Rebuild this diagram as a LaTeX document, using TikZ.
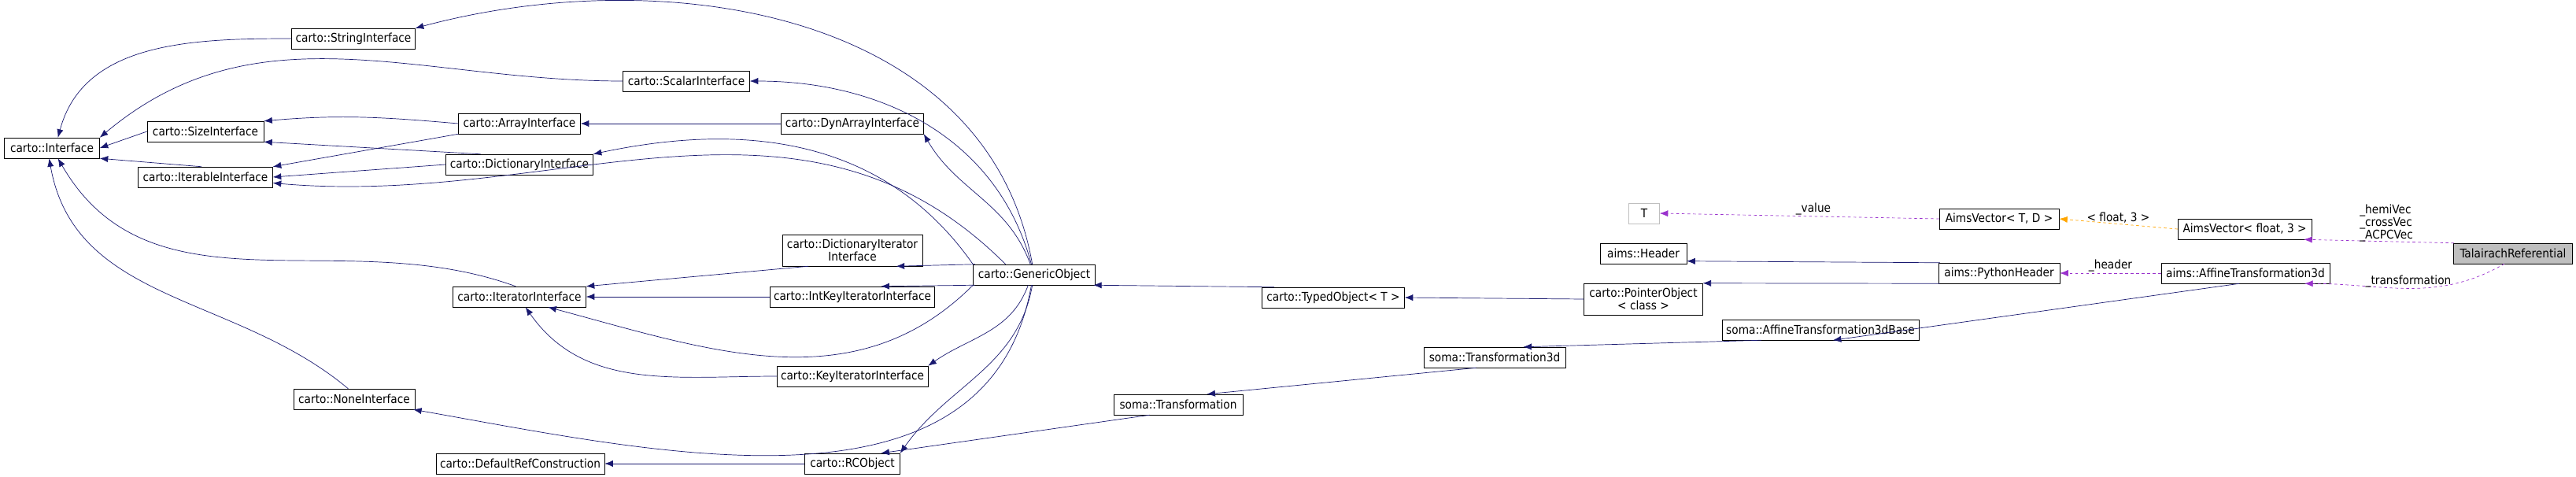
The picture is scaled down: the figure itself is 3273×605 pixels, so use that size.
\documentclass[tikz,border=0pt]{standalone}
\usepackage{fontspec}
\setmainfont{DejaVu Sans Condensed}
\usetikzlibrary{arrows.meta}
\definecolor{navy}{HTML}{191970}
\definecolor{dpurple}{HTML}{9A32CD}
\definecolor{dorange}{HTML}{FFA500}
\tikzset{
  cls/.style={draw, fill=white, minimum height=0.78cm, inner sep=1pt, font=\fontsize{13}{14}\selectfont, align=center},
  inh/.style={navy, semithick, -{Latex[length=9pt,width=7pt]}},
  use/.style={dpurple, semithick, dashed, -{Latex[length=9pt,width=7pt]}},
  tpl/.style={dorange, semithick, dashed, -{Latex[length=9pt,width=7pt]}},
  lbl/.style={text=black, font=\fontsize{13}{14}\selectfont, inner sep=1pt, align=left}
}
\begin{document}
\begin{tikzpicture}[x=0.03cm, y=-0.03cm]
\useasboundingbox (0,0) rectangle (3273,605);

% carto interfaces
\node[cls, minimum width=3.63cm] (iface) at (66,188) {carto::Interface};
\node[cls, minimum width=4.71cm] (strif) at (449,49) {carto::StringInterface};
\node[cls, minimum width=4.83cm] (scalif) at (872,103) {carto::ScalarInterface};
\node[cls, minimum width=4.44cm] (sizeif) at (261,167) {carto::SizeInterface};
\node[cls, minimum width=5.13cm] (iterable) at (261,225) {carto::IterableInterface};
\node[cls, minimum width=4.65cm] (arrif) at (660,157) {carto::ArrayInterface};
\node[cls, minimum width=5.43cm] (dynarr) at (1083,157) {carto::DynArrayInterface};
\node[cls, minimum width=5.61cm] (dictif) at (660,209) {carto::DictionaryInterface};
\node[cls, minimum width=5.34cm, minimum height=1.2cm] (dictiter) at (1083,318) {carto::DictionaryIterator\\Interface};
\node[cls, minimum width=5.07cm] (iterif) at (660,377) {carto::IteratorInterface};
\node[cls, minimum width=6.27cm] (intkey) at (1083,377) {carto::IntKeyIteratorInterface};
\node[cls, minimum width=5.76cm] (keyiter) at (1083,478) {carto::KeyIteratorInterface};
\node[cls, minimum width=4.62cm] (noneif) at (450,507) {carto::NoneInterface};
\node[cls, minimum width=6.42cm] (defref) at (661,589) {carto::DefaultRefConstruction};
\node[cls, minimum width=3.63cm] (rcobj) at (1083,589) {carto::RCObject};
\node[cls, minimum width=4.65cm] (generic) at (1314,349) {carto::GenericObject};
\node[cls, minimum width=5.43cm] (typed) at (1694,378) {carto::TypedObject< T >};

% aims / soma
\node[cls, draw=gray!50, minimum width=1.17cm] (tparam) at (2089,271) {T};
\node[cls, minimum width=3.3cm] (header) at (2088,322) {aims::Header};
\node[cls, minimum width=4.53cm, minimum height=1.2cm] (pointer) at (2088,380) {carto::PointerObject\\< class >};
\node[cls, minimum width=5.4cm] (trans3d) at (1899,454) {soma::Transformation3d};
\node[cls, minimum width=4.92cm] (trans) at (1497,514) {soma::Transformation};
\node[cls, minimum width=7.5cm] (affbase) at (2313,419) {soma::AffineTransformation3dBase};
\node[cls, minimum width=4.56cm] (vectd) at (2540,278) {AimsVector< T, D >};
\node[cls, minimum width=5.1cm] (vecf3) at (2852,291) {AimsVector< float, 3 >};
\node[cls, fill=gray!50, minimum width=4.53cm] (talai) at (3193,322) {TalairachReferential};
\node[cls, minimum width=4.62cm] (pyhdr) at (2540,347) {aims::PythonHeader};
\node[cls, minimum width=6.42cm] (aff3d) at (2853,347) {aims::AffineTransformation3d};

% inheritance to carto::Interface
\draw[inh] (strif.west) to[out=180,in=75] (iface.60);
\draw[inh] (scalif.west) to[out=180,in=40] (iface.north east);
\draw[inh] (sizeif.west) -- (iface.east);
\draw[inh] (iterable.110) -- (iface.south east);
\draw[inh] (iterif.110) to[out=160,in=-60] (iface.-60);
\draw[inh] (noneif.120) to[out=140,in=-80] (iface.-105);
\draw[inh] (arrif.west) to[out=175,in=5] (sizeif.north east);
\draw[inh] (arrif.south west) -- (iterable.north east);
\draw[inh] (dictif.165) -- (sizeif.south east);
\draw[inh] (dictif.west) -- (iterable.east);
\draw[inh] (dynarr.west) -- (arrif.east);
\draw[inh] (dictiter.200) -- (iterif.north east);
\draw[inh] (intkey.west) -- (iterif.east);
\draw[inh] (keyiter.west) to[out=180,in=-55] (iterif.-60);

% carto::GenericObject
\draw[inh] (generic.100) to[out=100,in=15] (strif.north east);
\draw[inh] (generic.105) to[out=105,in=0] (scalif.east);
\draw[inh] (generic.110) to[out=110,in=-60] (dynarr.south east);
\draw[inh] (generic.north west) to[out=125,in=12] (dictif.north east);
\draw[inh] (generic.160) to[out=135,in=-5] (iterable.-5);
\draw[inh] (generic.170) -- (dictiter.-20);
\draw[inh] (generic.190) -- (intkey.20);
\draw[inh] (generic.south west) to[out=-135,in=-15] (iterif.-20);
\draw[inh] (generic.-120) to[out=-110,in=35] (keyiter.north east);
\draw[inh] (generic.-105) to[out=-100,in=-10] (noneif.-10);
\draw[inh] (generic.-100) to[out=-100,in=55] (rcobj.north east);
\draw[inh] (rcobj.west) -- (defref.east);
\draw[inh] (typed.170) -- (generic.-10);
\draw[inh] (pointer.west) -- (typed.east);
\draw[inh] (pyhdr.170) -- (header.-10);
\draw[inh] (pyhdr.190) -- (pointer.15);

% soma transformations
\draw[inh] (trans.-160) -- (rcobj.20);
\draw[inh] (trans3d.-150) -- (trans.20);
\draw[inh] (affbase.-170) -- (trans3d.20);
\draw[inh] (aff3d.-120) -- (affbase.-40);

% members
\draw[use] (vectd.west) -- node[lbl, above, pos=0.45] {\_value} (tparam.east);
\draw[tpl] (vecf3.west) -- node[lbl, above] {< float, 3 >} (vectd.east);
\draw[use] (talai.170) -- node[lbl, above, pos=0.45, yshift=-2pt] {\_hemiVec\\\_crossVec\\\_ACPCVec} (vecf3.-10);
\draw[use] (talai.-130) to[out=-150,in=0] node[lbl, above, pos=0.5] {\_transformation} (aff3d.-10);
\draw[use] (aff3d.west) -- node[lbl, above] {\_header} (pyhdr.east);
\end{tikzpicture}
\end{document}
